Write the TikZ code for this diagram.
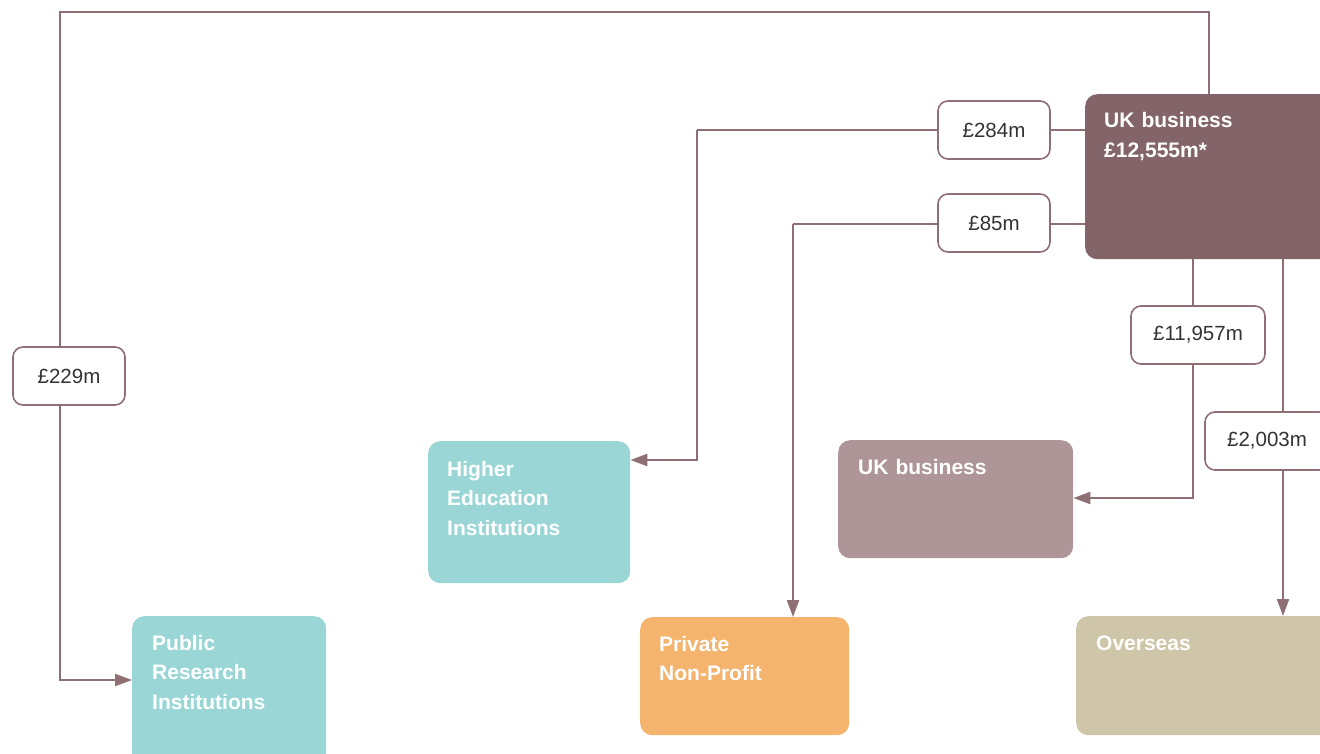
\documentclass[tikz,border=0pt]{standalone}
\usepackage{fontspec}
\setmainfont{Liberation Sans}
\usetikzlibrary{arrows.meta}
\definecolor{mainc}{HTML}{836569}
\definecolor{tealc}{HTML}{9AD6D5}
\definecolor{orangec}{HTML}{F4B46E}
\definecolor{ukbc}{HTML}{AE9698}
\definecolor{overc}{HTML}{CFC5A8}
\definecolor{linec}{HTML}{8D6F74}
\tikzset{
  boxnode/.style={rectangle, rounded corners=12pt, draw=none, anchor=north west, inner sep=0pt},
  titletext/.style={anchor=base west, inner sep=0pt, text=white, font=\fontsize{21}{29.5}\selectfont\bfseries, text width=220pt, align=left},
  amount/.style={rectangle, rounded corners=10pt, draw=linec, line width=1.6pt, fill=white, minimum width=112pt, minimum height=58pt, inner sep=0pt, font=\fontsize{20.5}{24}\selectfont, text=black!80},
  conn/.style={draw=linec, line width=2.2pt},
  arr/.style={-{Triangle[length=17pt,width=12pt]}}
}
\begin{document}
\begin{tikzpicture}[x=1pt,y=-1pt]
\useasboundingbox (0,0) rectangle (1320,754);
\clip (0,0) rectangle (1320,754);
% boxes
\node[boxnode, fill=mainc, minimum width=260pt, minimum height=165pt] (ukb) at (1085,94) {};
\node[titletext] (ukbt) at (1104,128) {UK business\\£12,555m*};
\node[boxnode, fill=tealc, minimum width=194pt, minimum height=160pt] (pri) at (132,616) {};
\node[titletext] (prit) at (152,650) {Public\\Research\\Institutions};
\node[boxnode, fill=tealc, minimum width=202pt, minimum height=142pt] (hei) at (428,441) {};
\node[titletext] (heit) at (447,476) {Higher\\Education\\Institutions};
\node[boxnode, fill=orangec, minimum width=209pt, minimum height=118pt] (pnp) at (640,617) {};
\node[titletext] (pnpt) at (659,651) {Private\\Non-Profit};
\node[boxnode, fill=ukbc, minimum width=235pt, minimum height=118pt] (ukb2) at (838,440) {};
\node[titletext] (ukb2t) at (858,474) {UK business};
\node[boxnode, fill=overc, minimum width=260pt, minimum height=119pt] (ovs) at (1076,616) {};
\node[titletext] (ovst) at (1096,650) {Overseas};
% coordinates
\coordinate (t1) at (1209,12);
\coordinate (t2) at (60,12);
\coordinate (k229) at (60,680);
\coordinate (k284a) at (697,130);
\coordinate (k284) at (697,460);
\coordinate (k85a) at (793,224);
\coordinate (k85) at (793,616);
\coordinate (k11a) at (1193,259);
\coordinate (k11) at (1193,498);
\coordinate (k20a) at (1283,259);
\coordinate (k20) at (1283,616);
% connectors
\draw[conn] (ukb.north -| t1) -- (t1) -- (t2) -- (k229 |- 0,350);
\draw[conn, arr] (k229 |- 0,400) -- (k229) -- (k229 -| pri.west);
\draw[conn] (ukb.west |- k284a) -- (k284a);
\draw[conn, arr] (k284a) -- (k284) -- (k284 -| hei.east);
\draw[conn] (ukb.west |- k85a) -- (k85a);
\draw[conn, arr] (k85a) -- (k85 |- pnp.north);
\draw[conn] (k11a) -- (k11 |- 0,310);
\draw[conn, arr] (k11 |- 0,360) -- (k11) -- (k11 -| ukb2.east);
\draw[conn] (k20a) -- (k20 |- 0,415);
\draw[conn, arr] (k20 |- 0,465) -- (k20 |- ovs.north);
% amount labels
\node[amount] (l229) at (69,376) {£229m};
\node[amount] (l284) at (994,130) {£284m};
\node[amount] (l85) at (994,223) {£85m};
\node[amount, minimum width=134pt] (l11) at (1198,335) {£11,957m};
\node[amount, minimum width=124pt] (l20) at (1267,441) {£2,003m};
\end{tikzpicture}
\end{document}
